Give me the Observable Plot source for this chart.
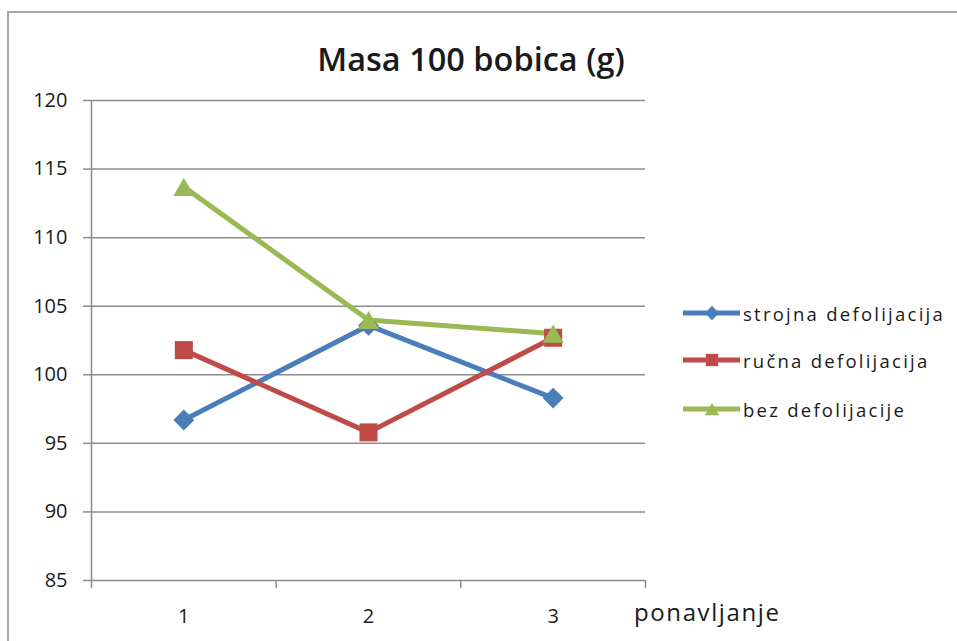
<!DOCTYPE html>
<html>
<head>
<meta charset="utf-8">
<script src="https://cdn.jsdelivr.net/npm/d3@7"></script>
<script src="https://cdn.jsdelivr.net/npm/@observablehq/plot@0.6"></script>
<style>
  html, body { margin: 0; padding: 0; background: #fff; overflow: hidden; }
  #wrap { position: relative; width: 957px; height: 641px; overflow: hidden; font-family: "Open Sans", sans-serif; color: #1a1a1a; }
  #frame { position: absolute; left: 7px; top: 11px; width: 1000px; height: 700px; border: 2px solid #a6a6a6; box-sizing: border-box; }
  #chart { position: absolute; left: 0; top: 0; }
  #title { position: absolute; left: 0; width: 942px; top: 36px; text-align: center; font-size: 32.5px; font-weight: 600; }
  #xlabel { position: absolute; left: 634px; top: 595px; font-size: 24px; letter-spacing: 1.6px; }
  .leg { position: absolute; left: 683px; height: 24px; display: flex; align-items: center; font-size: 18.5px; letter-spacing: 2.25px; }
  .leg svg { margin-right: 2px; }
</style>
</head>
<body>
<div id="wrap">
  <div id="frame"></div>
  <div id="chart"></div>
  <div id="title"></div>
  <div id="xlabel"></div>
  <div id="legend"></div>
</div>
<script>
const chartTitle = "Masa 100 bobica (g)";
const xTitle = "ponavljanje";
const categories = [1, 2, 3];
const seriesNames = ["strojna defolijacija", "ručna defolijacija", "bez defolijacije"];
const strojna = [96.7, 103.6, 98.3];
const rucna = [101.8, 95.8, 102.7];
const bez = [113.7, 104.0, 103.0];
const yTicks = [85, 90, 95, 100, 105, 110, 115, 120];
const catBoundaries = [0.5, 1.5, 2.5, 3.5];
const colors = ["#4A7EBB", "#BE4B48", "#98B954"];

const seriesValues = [strojna, rucna, bez];
const rows = [];
seriesNames.forEach((s, i) => categories.forEach((c, j) => rows.push({series: s, x: c, y: seriesValues[i][j]})));

const diamond = { draw(ctx, size) { const r = Math.sqrt(size / Math.PI) * 1.1; ctx.moveTo(0, -r); ctx.lineTo(r, 0); ctx.lineTo(0, r); ctx.lineTo(-r, 0); ctx.closePath(); } };
const square = { draw(ctx, size) { const r = Math.sqrt(size / Math.PI) * 0.95; ctx.rect(-r, -r, 2 * r, 2 * r); } };
const triangle = { draw(ctx, size) { const r = Math.sqrt(size / Math.PI) * 1.1; const h = r * Math.sqrt(3) / 2 * 2; ctx.moveTo(0, -h / 2); ctx.lineTo(r, h / 2); ctx.lineTo(-r, h / 2); ctx.closePath(); } };
const symbols = [diamond, square, triangle];

const grid = "#8c8c8c";
const plot = Plot.plot({
  width: 957, height: 641,
  marginLeft: 91, marginRight: 312, marginTop: 100, marginBottom: 61,
  style: { fontFamily: "'Open Sans', sans-serif", fontSize: "20px", color: "#1a1a1a", background: "transparent", overflow: "visible" },
  x: { domain: [0.5, 3.5] },
  y: { domain: [85, 120] },
  color: { domain: seriesNames, range: colors },
  symbol: { domain: seriesNames, range: symbols },
  marks: [
    Plot.ruleY(yTicks, { stroke: grid, strokeWidth: 1.5 }),
    Plot.axisY({ ticks: yTicks, tickSize: 8, tickPadding: 16, stroke: grid, strokeWidth: 1.5, strokeOpacity: 1, label: null, tickFormat: d => String(d) }),
    Plot.ruleX([0.5], { stroke: grid, strokeWidth: 1.5 }),
    Plot.axisX({ ticks: catBoundaries, tickSize: 8, tickPadding: 0, stroke: grid, strokeWidth: 1.5, strokeOpacity: 1, label: null, tickFormat: () => "" }),
    Plot.axisX({ ticks: categories, tickSize: 0, tickPadding: 28, label: null, tickFormat: d => String(d) }),
    Plot.line(rows, { x: "x", y: "y", z: "series", stroke: "series", strokeWidth: 5, strokeLinejoin: "round" }),
    Plot.dot(rows, { x: "x", y: "y", fill: "series", symbol: "series", r: 9.5, stroke: "none" })
  ]
});
document.getElementById("chart").appendChild(plot);
document.getElementById("title").textContent = chartTitle;
document.getElementById("xlabel").textContent = xTitle;

const legendTops = [301, 348, 397];
const leg = document.getElementById("legend");
seriesNames.forEach((name, i) => {
  const div = document.createElement("div");
  div.className = "leg";
  div.style.top = legendTops[i] + "px";
  const svg = d3.create("svg").attr("width", 58).attr("height", 24);
  svg.append("line").attr("x1", 0).attr("x2", 57).attr("y1", 12).attr("y2", 12).attr("stroke", colors[i]).attr("stroke-width", 5);
  svg.append("path").attr("transform", "translate(29,12)").attr("fill", colors[i]).attr("d", d3.symbol(symbols[i], Math.PI * 6.5 * 6.5)());
  div.appendChild(svg.node());
  const span = document.createElement("span");
  span.textContent = name;
  div.appendChild(span);
  leg.appendChild(div);
});
</script>
</body>
</html>
